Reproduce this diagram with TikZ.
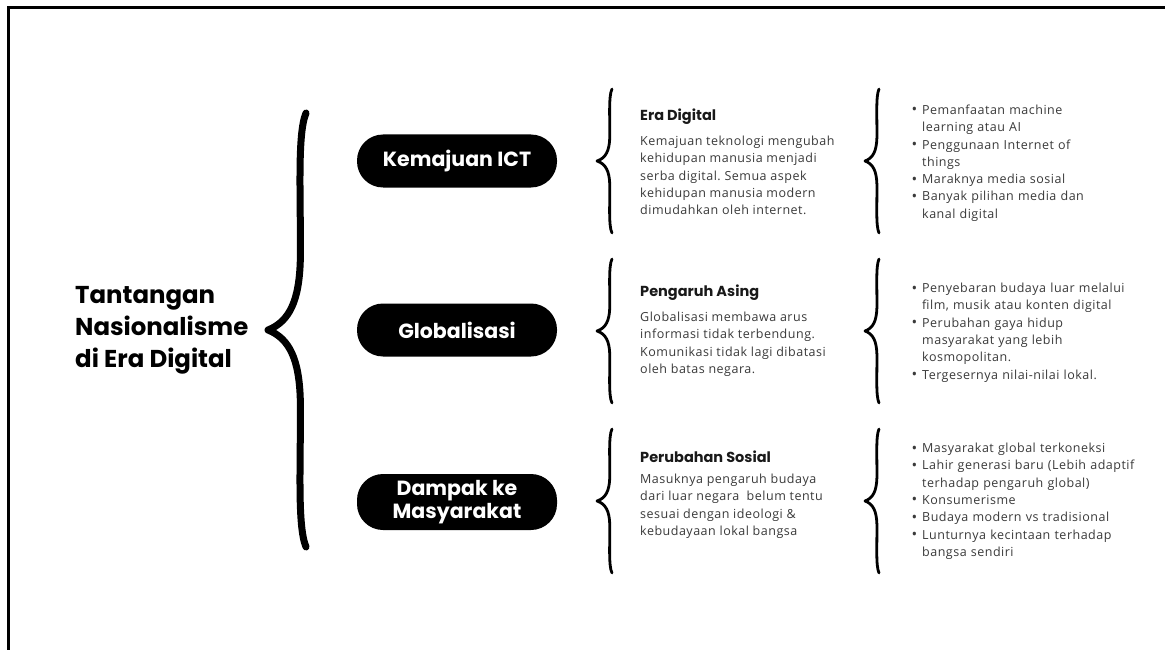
\documentclass[tikz,border=0pt]{standalone}
\usepackage{fontspec}
\setmainfont{Poppins}
\newfontfamily\bodyfont[LetterSpace=4]{Open Sans}
\usepackage{enumitem}
\usetikzlibrary{positioning}

\definecolor{bodygray}{HTML}{3A3A3A}
\setlist[itemize]{leftmargin=10pt, labelsep=5pt, itemsep=0pt, topsep=0pt,
  parsep=0pt, partopsep=0pt,
  label={\raisebox{-0.5pt}{\fontsize{15}{15}\selectfont\textbullet}}}
\frenchspacing

\tikzset{
  curly/.pic={
    \draw[pic actions] (0,-1) .. controls (-0.24,-0.9) and (-0.13,-0.6) .. (-0.15,-0.32)
      .. controls (-0.18,-0.14) and (-0.42,-0.04) .. (-1,0)
      .. controls (-0.42,0.04) and (-0.18,0.14) .. (-0.15,0.32)
      .. controls (-0.13,0.6) and (-0.24,0.9) .. (0,1);
  },
  bigcurly/.style={line width=7pt, line cap=round, line join=round, xscale=38, yscale=217},
  smallcurly/.style={line width=2.8pt, line cap=round, line join=round, xscale=15, yscale=72},
  pill/.style={fill=black, text=white, rounded corners=26pt, minimum width=200pt,
    minimum height=53pt, align=center, font=\fontsize{20.5}{23}\selectfont\bfseries},
  title/.style={anchor=west, inner sep=0pt, align=left,
    font=\fontsize{24.4}{32}\selectfont\bfseries},
  head/.style={anchor=west, inner sep=0pt, text=black!90,
    font=\fontsize{14.5}{16}\selectfont\bfseries},
  body/.style={anchor=north west, inner sep=0pt, align=left, text=bodygray,
    font=\bodyfont\fontsize{12.5}{17.2}\selectfont},
  list/.style={anchor=north west, inner sep=0pt, text width=250pt, text=bodygray,
    font=\bodyfont\fontsize{12.5}{17.3}\selectfont}
}

\begin{document}
\begin{tikzpicture}[x=1pt, y=-1pt]
  \useasboundingbox (0,0) rectangle (1165,650);
  \fill[white] (0,0) rectangle (1165,650);
  \draw[line width=3pt] (8,650) -- (8,8) -- (1165,8);

  \node[title] (title) at (75,330) {Tantangan\\Nasionalisme\\di Era Digital};
  \pic[bigcurly] at (306,330) {curly};

  \node[pill] (ict) at (457,161) {Kemajuan ICT};
  \node[pill] (glob) at (457,330) {Globalisasi};
  \node[pill, minimum height=56pt] (dampak) at (457,502) {Dampak ke\\Masyarakat};

  \pic[smallcurly] at (612,161) {curly};
  \pic[smallcurly] at (612,331) {curly};
  \pic[smallcurly] at (612,501) {curly};

  \node[head] (era) at (640,117) {Era Digital};
  \node[body] (erabody) at (640,136) {Kemajuan teknologi mengubah\\kehidupan manusia menjadi\\serba digital. Semua aspek\\kehidupan manusia modern\\dimudahkan oleh internet.};
  \node[head] (asing) at (640,293) {Pengaruh Asing};
  \node[body] (asingbody) at (640,312) {Globalisasi membawa arus\\informasi tidak terbendung.\\Komunikasi tidak lagi dibatasi\\oleh batas negara.};
  \node[head] (sosial) at (640,457) {Perubahan Sosial};
  \node[body] (sosialbody) at (640,474) {Masuknya pengaruh budaya\\dari luar negara~ belum tentu\\sesuai dengan ideologi \&\\kebudayaan lokal bangsa};

  \pic[smallcurly, xscale=14/15] at (879,161) {curly};
  \pic[smallcurly, xscale=14/15] at (879,331) {curly};
  \pic[smallcurly, xscale=14/15] at (879,501) {curly};

  \node[list] (ictlist) at (912,97) {\begin{itemize}
    \item Pemanfaatan machine\\learning atau AI
    \item Penggunaan Internet of\\things
    \item Maraknya media sosial
    \item Banyak pilihan media dan\\kanal digital
  \end{itemize}};
  \node[list] (globlist) at (912,275) {\begin{itemize}
    \item Penyebaran budaya luar melalui\\film, musik atau konten digital
    \item Perubahan gaya hidup\\masyarakat yang lebih\\kosmopolitan.
    \item Tergesernya nilai-nilai lokal.
  \end{itemize}};
  \node[list] (dampaklist) at (912,435) {\begin{itemize}
    \item Masyarakat global terkoneksi
    \item Lahir generasi baru (Lebih adaptif\\terhadap pengaruh global)
    \item Konsumerisme
    \item Budaya modern vs tradisional
    \item Lunturnya kecintaan terhadap\\bangsa sendiri
  \end{itemize}};
\end{tikzpicture}
\end{document}
